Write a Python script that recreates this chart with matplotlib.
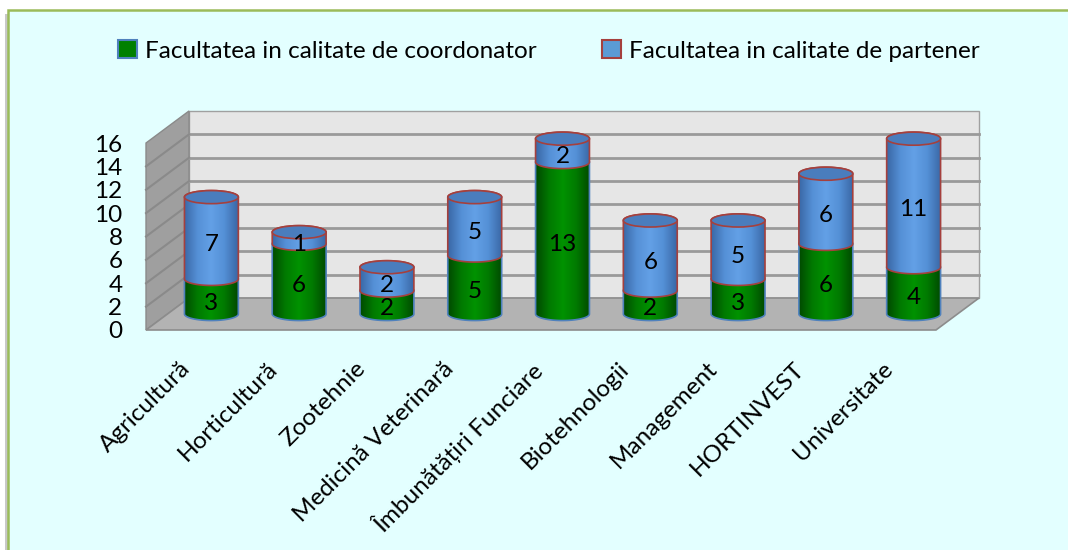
import numpy as np
import matplotlib
matplotlib.use("Agg")
import matplotlib.pyplot as plt
from matplotlib.patches import Polygon, Ellipse, PathPatch, Rectangle, Patch
from matplotlib.path import Path
from matplotlib.colors import LinearSegmentedColormap

# date
categories = ["Agricultură", "Horticultură", "Zootehnie", "Medicină Veterinară",
              "Îmbunătățiri Funciare", "Biotehnologii", "Management", "HORTINVEST",
              "Universitate"]
coordonator = [3, 6, 2, 5, 13, 2, 3, 6, 4]
partener = [7, 1, 2, 5, 2, 6, 5, 6, 11]
yticks = [0, 2, 4, 6, 8, 10, 12, 14, 16]
legend_labels = ["Facultatea in calitate de coordonator",
                 "Facultatea in calitate de partener"]

plt.rcParams['font.family'] = ['Lato', 'DejaVu Sans']
FS = 17.5

# efect 3D (in unitati de date)
DX, DY = 0.49, 2.74      # adancimea cutiei
W, H = 0.307, 0.56       # raza cilindrului (x) si jumatatea elipsei (y)
YMAX = 16

green_cm = LinearSegmentedColormap.from_list("g", ["#004a00", "#007a00", "#009200", "#007a00", "#004a00"])
blue_cm = LinearSegmentedColormap.from_list("b", ["#3a68a6", "#5590d6", "#63a0e6", "#5490d6", "#3a68a6"])
grad = np.linspace(0, 1, 200).reshape(1, -1)

fig = plt.figure(figsize=(10.68, 5.5), dpi=100)
fig.patch.set_facecolor("white")

# chenarul graficului
fig.patches.append(Rectangle((5 / 1068, -0.05), 1.1, 1 - 14 / 550 + 0.05,
                             transform=fig.transFigure, facecolor="#c8c8c8",
                             edgecolor="none", zorder=-3))
fig.patches.append(Rectangle((8 / 1068, -0.05), 1.1, 1 - 10 / 550 + 0.05,
                             transform=fig.transFigure, facecolor="#e3ffff",
                             edgecolor="#9bbb59", linewidth=1.8, zorder=-2))

ax = fig.add_axes([146 / 1068, 220 / 550, 790 / 1068, 187 / 550])
ax.set_facecolor("none")
n = len(categories)
x0, x1 = -0.5, n - 0.5

# pereti si podea
ax.add_patch(Polygon([(x0 + DX, DY), (x1 + DX, DY), (x1 + DX, YMAX + DY), (x0 + DX, YMAX + DY)],
                     closed=True, facecolor="#e6e6e6", edgecolor="#a0a0a0", lw=1, zorder=1, clip_on=False))
ax.add_patch(Polygon([(x0, 0), (x0 + DX, DY), (x0 + DX, YMAX + DY), (x0, YMAX)],
                     closed=True, facecolor="#9f9f9f", edgecolor="#8a8a8a", lw=1, zorder=1, clip_on=False))
ax.add_patch(Polygon([(x0, 0), (x1, 0), (x1 + DX, DY), (x0 + DX, DY)],
                     closed=True, facecolor="#b3b3b3", edgecolor="#8c8c8c", lw=1.2, zorder=1, clip_on=False))
for v in yticks[1:-1]:
    ax.plot([x0 + DX, x1 + DX], [v + DY, v + DY], color="#9a9a9a", lw=2, zorder=2, clip_on=False)
    ax.plot([x0, x0 + DX], [v, v + DY], color="#8a8a8a", lw=1.5, zorder=2, clip_on=False)


def body_path(cx, y0, y1):
    t = np.linspace(np.pi, 2 * np.pi, 60)
    lower = np.column_stack([cx + W * np.cos(t), y0 + H * np.sin(t)])
    t2 = np.linspace(0, np.pi, 60)
    upper = np.column_stack([cx + W * np.cos(t2), y1 + H * np.sin(t2)])
    verts = np.vstack([lower, upper, lower[:1]])
    codes = [Path.MOVETO] + [Path.LINETO] * (len(verts) - 2) + [Path.CLOSEPOLY]
    return Path(verts, codes)


def segment(cx, y0, y1, cmap, edge, z):
    p = PathPatch(body_path(cx, y0, y1), facecolor="none", edgecolor=edge,
                  lw=1.2, transform=ax.transData, zorder=z + 0.05, clip_on=False)
    ax.add_patch(p)
    im = ax.imshow(grad, cmap=cmap, extent=[cx - W, cx + W, y0 - H, y1 + H],
                   aspect="auto", zorder=z, interpolation="bilinear")
    im.set_clip_box(fig.bbox)
    im.set_clip_path(p)


base = DY / 2
for i in range(n):
    cx = i + DX / 2
    g, b = coordonator[i], partener[i]
    segment(cx, base, base + g, green_cm, "#4f81bd", 3.0)
    segment(cx, base + g, base + g + b, blue_cm, "#a5403d", 3.2)
    ax.add_patch(Ellipse((cx, base + g + b), 2 * W, 2 * H, facecolor="#4a7dbd",
                         edgecolor="#a5403d", lw=1.2, zorder=3.4, clip_on=False))
    ax.text(cx, base + g / 2 - H, str(g), ha="center", va="center", fontsize=FS, zorder=6)
    ax.text(cx, base + g + b / 2 - H, str(b), ha="center", va="center", fontsize=FS, zorder=6)
    ax.text(i - 0.12, -2.4, categories[i], rotation=45, rotation_mode="anchor",
            ha="right", va="top", fontsize=FS)

ax.set_xlim(x0, x1)
ax.set_ylim(0, YMAX)
ax.set_xticks([])
ax.set_yticks(yticks)
ax.set_yticklabels([str(v) for v in yticks], fontsize=FS)
ax.tick_params(axis="y", length=0, pad=17)
for s in ax.spines.values():
    s.set_visible(False)

handles = [Patch(facecolor="#008000", edgecolor="#4f81bd", lw=1.5),
           Patch(facecolor="#5b9bd5", edgecolor="#a5403d", lw=1.5)]
fig.legend(handles, legend_labels, loc="center", bbox_to_anchor=(549 / 1068, 1 - 51 / 550),
           ncol=2, frameon=False, fontsize=FS, handlelength=0.75, handleheight=0.7,
           handletextpad=0.35, columnspacing=2.7)

fig.savefig("out.png", dpi=100)
